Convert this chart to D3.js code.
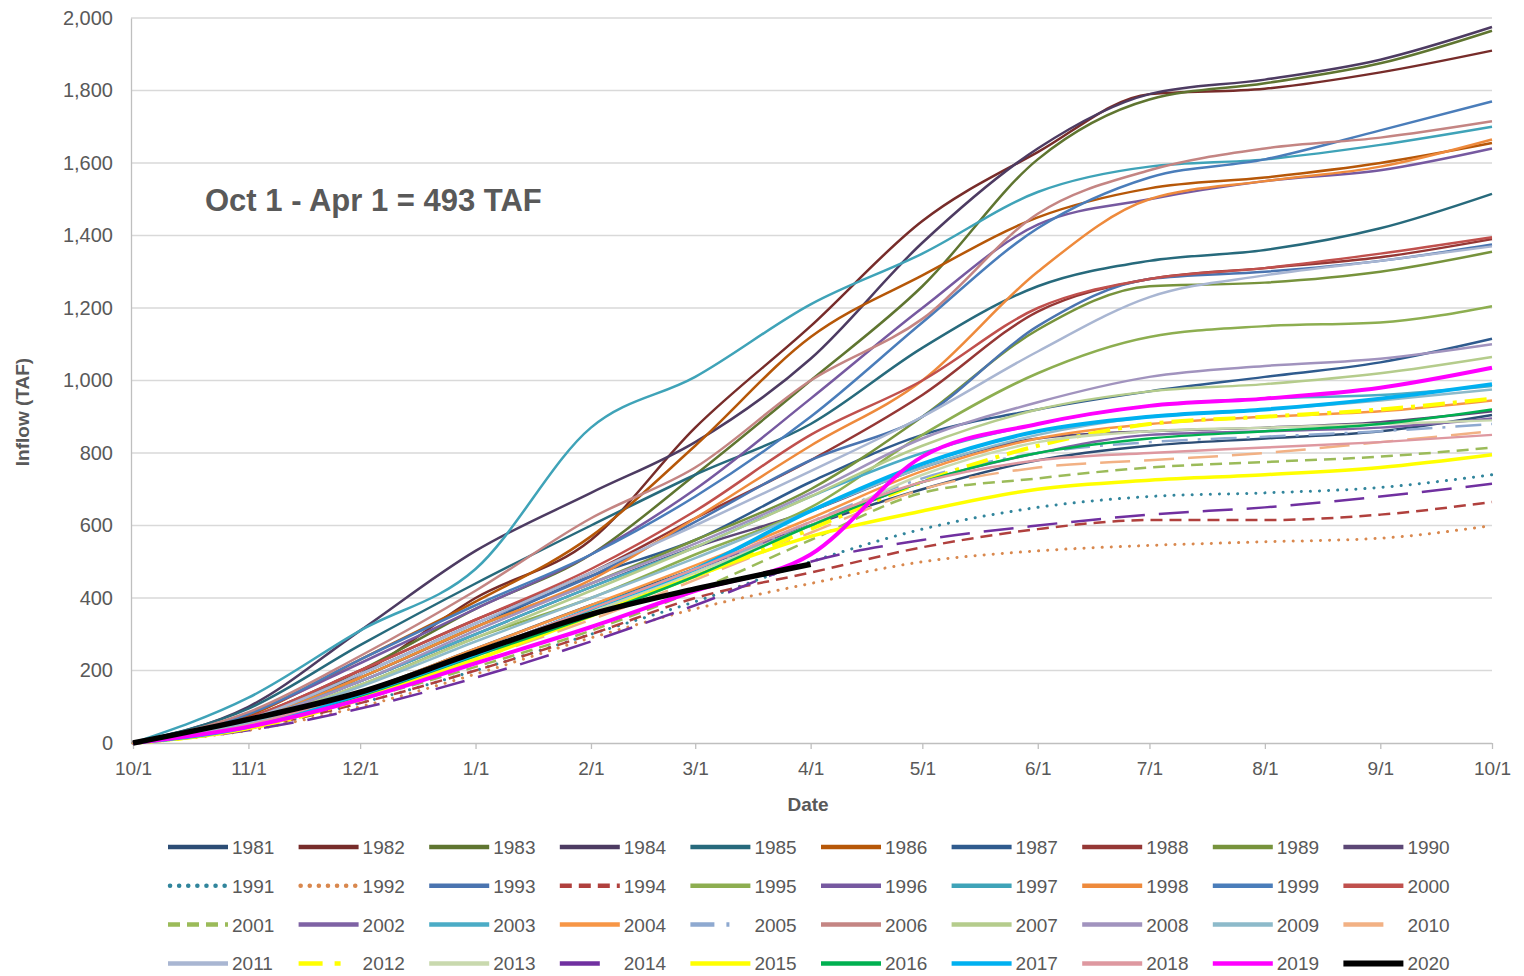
<!DOCTYPE html>
<html><head><meta charset="utf-8">
<script src="https://cdn.jsdelivr.net/npm/d3@7"></script>
<style>
html,body{margin:0;padding:0;background:#fff;}
svg{display:block;font-family:"Liberation Sans",Arial,sans-serif;}
</style></head><body>
<svg id="c" width="1524" height="976"></svg>
<script>
// ---- data ----
const monthLabels = ["10/1","11/1","12/1","1/1","2/1","3/1","4/1","5/1","6/1","7/1","8/1","9/1","10/1"];
const monthDates = ["2018-10-01","2018-11-01","2018-12-01","2019-01-01","2019-02-01","2019-03-01","2019-04-01","2019-05-01","2019-06-01","2019-07-01","2019-08-01","2019-09-01","2019-10-01"];
const yTicks = [0,200,400,600,800,1000,1200,1400,1600,1800,2000];
const years = ["1981","1982","1983","1984","1985","1986","1987","1988","1989","1990","1991","1992","1993","1994","1995","1996","1997","1998","1999","2000","2001","2002","2003","2004","2005","2006","2007","2008","2009","2010","2011","2012","2013","2014","2015","2016","2017","2018","2019","2020"];

const v1981 = [0,50,140,260,380,480,600,700,780,820,840,860,905];
const v1982 = [0,60,190,400,560,870,1150,1440,1630,1790,1805,1850,1910];
const v1983 = [0,65,200,370,520,740,1000,1260,1610,1775,1820,1875,1965];
const v1984 = [0,100,310,530,690,830,1060,1380,1640,1790,1830,1885,1975];
const v1985 = [0,95,270,440,600,740,880,1090,1260,1330,1360,1420,1515];
const v1986 = [0,75,230,390,570,820,1120,1290,1450,1530,1560,1600,1655];
const v1987 = [0,65,180,320,460,560,720,850,920,970,1010,1050,1115];
const v1988 = [0,70,200,340,470,620,780,960,1190,1280,1310,1340,1390];
const v1989 = [0,60,180,320,440,560,700,900,1140,1260,1270,1300,1355];
const v1990 = [0,60,170,300,430,540,640,760,840,860,870,885,915];
const v1991 = [0,40,110,200,300,390,500,590,650,680,690,705,740];
const v1992 = [0,35,100,190,290,370,440,500,530,545,555,565,600];
const v1993 = [0,65,190,330,460,610,780,900,1150,1280,1300,1330,1375];
const v1994 = [0,40,110,200,300,400,470,540,590,615,615,630,665];
const v1995 = [0,55,160,290,400,520,650,850,1020,1120,1150,1160,1205];
const v1996 = [0,80,220,370,520,700,950,1200,1430,1500,1550,1580,1640];
const v1997 = [0,125,310,480,870,1010,1210,1350,1520,1590,1610,1650,1700];
const v1998 = [0,60,180,320,450,620,820,1000,1300,1500,1550,1590,1665];
const v1999 = [0,80,230,380,520,680,900,1160,1420,1560,1610,1690,1770];
const v2000 = [0,70,200,340,480,640,850,1000,1200,1280,1310,1350,1395];
const v2001 = [0,45,120,210,310,420,560,690,730,760,775,790,815];
const v2002 = [0,50,140,250,370,480,600,720,800,850,860,870,895];
const v2003 = [0,60,170,300,430,540,680,800,880,930,950,960,985];
const v2004 = [0,50,140,260,380,490,620,750,840,880,900,915,945];
const v2005 = [0,50,140,250,360,470,610,730,800,830,845,860,880];
const v2006 = [0,85,240,420,620,760,1000,1170,1460,1580,1640,1670,1715];
const v2007 = [0,55,160,290,420,540,680,820,920,970,990,1020,1065];
const v2008 = [0,60,170,310,440,550,690,840,940,1010,1040,1060,1100];
const v2009 = [0,55,155,280,400,510,640,760,850,900,920,945,975];
const v2010 = [0,45,130,230,340,450,580,700,760,780,800,830,860];
const v2011 = [0,65,190,330,470,600,750,900,1080,1230,1290,1330,1370];
const v2012 = [0,40,120,230,360,460,590,720,820,880,900,920,950];
const v2013 = [0,45,130,240,360,470,600,740,830,860,870,880,890];
const v2014 = [0,35,95,180,280,380,500,560,600,630,650,680,715];
const v2015 = [0,40,125,230,350,460,570,640,700,725,740,760,795];
const v2016 = [0,45,130,240,350,460,600,720,800,840,860,880,920];
const v2017 = [0,45,135,245,370,480,640,770,860,900,920,950,990];
const v2018 = [0,50,140,250,370,480,610,720,780,800,815,830,850];
const v2019 = [0,45,120,220,320,420,520,790,880,930,950,980,1035];
const v2020 = [0,65,140,250,355,425,493];

const valueArrays = [v1981,v1982,v1983,v1984,v1985,v1986,v1987,v1988,v1989,v1990,v1991,v1992,v1993,v1994,v1995,v1996,v1997,v1998,v1999,v2000,v2001,v2002,v2003,v2004,v2005,v2006,v2007,v2008,v2009,v2010,v2011,v2012,v2013,v2014,v2015,v2016,v2017,v2018,v2019,v2020];

// ---- styles ----
const colors = ["#2C4D75","#772C2A","#5F7530","#4D3B62","#276A7C","#B65708","#2F5B8E","#953735","#77933C","#5C4776",
  "#31859C","#D9884E","#4A74B0","#B0403D","#8DAE50","#7659A0","#3FA3B8","#EE8A3C","#4A7DBA","#C0504D",
  "#9BBB59","#7E62A4","#4BACC6","#F79646","#8EA9D0","#C48583","#B5CC8C","#A193BE","#8DBACA","#F2B184",
  "#A9B6D2","#FFFF00","#C9D9AE","#7030A0","#FFFF00","#00B050","#00B0F0","#DE98A0","#FF00FF","#000000"];
const widths = {"2012":4,"2015":3.5,"2017":4,"2019":4,"2020":5.5};
const dashes = {"1991":"0.1,9","1992":"0.1,9","1994":"12,7","2001":"12,7","2005":"26,10,3,10","2010":"30,14","2012":"22,8,4,8","2014":"30,14"};

const parse = d3.timeParse("%Y-%m-%d");
const dates = monthDates.map(parse);

const svg = d3.select("#c");
const L = 133, R = 1492, T = 18, B = 743;
const x = d3.scaleTime().domain([dates[0], dates[dates.length-1]]).range([L, R]);
const y = d3.scaleLinear().domain([0,2000]).range([B, T]);

// gridlines
svg.append("g").selectAll("line").data(yTicks.filter(d=>d>0)).join("line")
  .attr("x1", L-2).attr("x2", R).attr("y1", d=>y(d)).attr("y2", d=>y(d))
  .attr("stroke", "#d9d9d9").attr("stroke-width", 1.3);

// y axis
const yAxis = svg.append("g").attr("transform", `translate(${L-2},0)`)
  .call(d3.axisLeft(y).tickValues(yTicks).tickSize(0).tickPadding(18).tickFormat(d3.format(",")));
yAxis.select(".domain").attr("stroke", "#bfbfbf").attr("stroke-width", 1.3);
yAxis.selectAll("text").attr("fill", "#595959").attr("font-size", 20).attr("font-family", "Liberation Sans, Arial, sans-serif");

// x axis
const xAxis = svg.append("g").attr("transform", `translate(0,${B})`)
  .call(d3.axisBottom(x).tickValues(dates).tickSize(6).tickPadding(13).tickFormat((d,i)=>monthLabels[i]));
xAxis.select(".domain").attr("stroke", "#bfbfbf").attr("stroke-width", 1.3).attr("d", `M${L-2},0.5H${R}`);
xAxis.selectAll(".tick line").attr("stroke", "#bfbfbf").attr("stroke-width", 1.3);
xAxis.selectAll("text").attr("fill", "#595959").attr("font-size", 19).attr("font-family", "Liberation Sans, Arial, sans-serif");

// axis titles
svg.append("text").attr("x", 808).attr("y", 811).attr("text-anchor", "middle")
  .attr("font-size", 19).attr("font-weight", "bold").attr("fill", "#595959").text("Date");
svg.append("text").attr("transform", "translate(29,412) rotate(-90)").attr("text-anchor", "middle")
  .attr("font-size", 19).attr("font-weight", "bold").attr("fill", "#595959").text("Inflow (TAF)");

// annotation
svg.append("text").attr("x", 205).attr("y", 211).attr("font-size", 31).attr("font-weight", "bold")
  .attr("fill", "#595959").text("Oct 1 - Apr 1 = 493 TAF");

// series
const series = years.map((yr,i)=>({year: yr, color: colors[i], width: widths[yr] || 2.5, dash: dashes[yr] || null,
  values: valueArrays[i].map((v,j)=>({date: dates[j], v: v}))}));

const line = d3.line().x(d=>x(d.date)).y(d=>y(d.v)).curve(d3.curveMonotoneX);
svg.append("g").selectAll("path").data(series).join("path")
  .attr("d", d=>line(d.values))
  .attr("fill", "none")
  .attr("stroke", d=>d.color)
  .attr("stroke-width", d=>d.dash && d.dash.startsWith("0.1") ? 3 : d.width)
  .attr("stroke-linecap", d=>d.dash && d.dash.startsWith("0.1") ? "round" : "butt")
  .attr("stroke-linejoin", "round")
  .attr("stroke-dasharray", d=>d.dash);

// legend
const legendDash = {"1991":"0.1,9","1992":"0.1,9","1994":"12,7","2001":"12,7","2005":"24,12,3,30","2010":"40,30","2012":"24,12,6,30","2014":"40,30"};
const lg = svg.append("g");
series.forEach((s,i)=>{
  const col = i % 10, row = Math.floor(i/10);
  const x0 = 168 + col*130.6, y0 = 847 + row*38.8;
  const isDot = s.dash && s.dash.startsWith("0.1");
  lg.append("line").attr("x1", x0 + (isDot?2:0)).attr("x2", x0+60).attr("y1", y0).attr("y2", y0)
    .attr("stroke", s.color).attr("stroke-width", s.year==="2020"?6:4.5)
    .attr("stroke-linecap", isDot ? "round" : "butt")
    .attr("stroke-dasharray", legendDash[s.year] || null);
  lg.append("text").attr("x", x0+64).attr("y", y0+7).attr("font-size", 19).attr("fill", "#595959").text(s.year);
});
</script>
</body></html>
